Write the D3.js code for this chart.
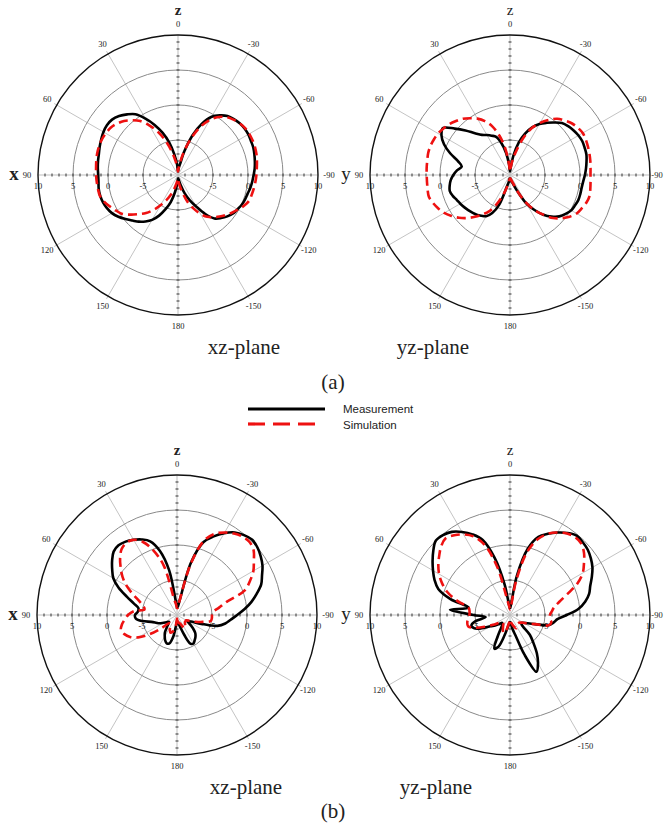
<!DOCTYPE html>
<html>
<head>
<meta charset="utf-8">
<script src="https://cdnjs.cloudflare.com/ajax/libs/d3/7.8.5/d3.min.js"></script>
<style>
  body { margin: 0; background: #fff; }
  svg text { font-family: "Liberation Serif", "Times New Roman", serif; fill: #222; }
  svg text.legend { font-family: "Liberation Sans", Arial, sans-serif; }
</style>
</head>
<body>
<div id="chart"></div>
<script>
// sample angles (deg), 0 = +z axis, positive values towards the left (x or y) axis
const angles = [-180,-175,-170,-165,-160,-155,-150,-145,-140,-135,-130,-125,-120,-115,-110,-105,-100,-95,
  -90,-85,-80,-75,-70,-65,-60,-55,-50,-45,-40,-35,-30,-25,-20,-15,-10,-5,
  0,5,10,15,20,25,30,35,40,45,50,55,60,65,70,75,80,85,
  90,95,100,105,110,115,120,125,130,135,140,145,150,155,160,165,170,175];

// gain in dB at each angle above
// (a) xz-plane
const xzMeasA = [-9.5,-9.5,-9.2,-8.5,-7.2,-6.0,-4.8,-3.2,-1.9,-1.3,-0.8,-0.4,-0.2,0.05,0.2,0.3,0.5,0.65,
  0.8,1.0,1.15,1.3,1.45,1.5,1.6,1.6,1.5,1.3,1.0,0.4,-0.4,-1.9,-4.0,-6.5,-8.5,-9,
  -9.5,-8.5,-7,-5.2,-3.6,-2.1,-0.7,0.6,1.3,1.9,2.3,2.4,2.3,2.1,1.9,1.7,1.6,1.5,
  1.4,1.4,1.5,1.5,1.4,1.2,0.9,0.4,-0.2,-0.8,-1.3,-1.9,-2.6,-3.6,-4.8,-6.0,-7.5,-8.8];
const xzSimA = [-9.5,-9,-8.3,-7.2,-5.8,-4.7,-3.6,-2.7,-2.1,-1.6,-1.1,-0.6,-0.1,0.4,0.8,0.9,1.0,1.1,
  1.2,1.3,1.45,1.6,1.7,1.75,1.75,1.7,1.5,1.2,0.8,0.1,-0.9,-2.4,-4.3,-6.3,-8,-9,
  -9.5,-9,-8,-6.5,-4.8,-3.2,-1.8,-0.6,0.2,0.9,1.4,1.75,1.9,2.0,2.0,1.95,1.85,1.75,
  1.7,1.65,1.6,1.55,1.2,0.7,0.2,-0.3,-1.2,-2.1,-2.9,-3.9,-5.0,-6.0,-7.0,-8.0,-8.8,-9.3];
// (a) yz-plane
const yzMeasA = [-9.5,-9.5,-9.3,-9,-8.5,-7.3,-5.3,-3.9,-2.6,-1.6,-0.8,-0.3,0.1,0.25,0.4,0.4,0.4,0.5,
  0.7,0.9,1.1,1.3,1.35,1.4,1.3,1.1,0.85,0.5,-0.2,-0.9,-1.6,-2.5,-3.7,-5.2,-7.2,-9,
  -9.5,-8.5,-6.8,-5.3,-4.2,-3.8,-3.4,-3.0,-2.2,-1.0,0.3,1.7,1.3,0.4,-0.9,-2.3,-3.0,-2.4,
  -1.9,-1.5,-1.25,-1.1,-1.3,-1.6,-1.8,-2.0,-2.2,-2.4,-2.6,-2.9,-3.2,-4.0,-5.5,-8.3,-9.0,-9.5];
const yzSimA = [-9.5,-9.5,-9.4,-9.2,-8.8,-7.3,-5.5,-3.9,-2.6,-1.3,-0.4,0.4,1.0,1.3,1.6,1.75,1.65,1.55,
  1.5,1.55,1.65,1.75,1.85,1.95,2.0,1.8,1.5,1.0,0.5,-0.4,-1.4,-2.6,-4.3,-6.3,-7.8,-9,
  -9.5,-8.5,-6.2,-4.2,-2.6,-1.5,-0.7,-0.1,0.5,0.9,1.3,1.6,1.85,2.0,2.1,2.1,2.0,1.95,
  1.9,1.9,1.95,2.0,1.7,1.3,0.85,0.2,-0.5,-1.3,-2.2,-3.1,-4.0,-5.3,-6.7,-8.0,-8.9,-9.4];
// (b) xz-plane
const xzMeasB = [-9,-9,-8.8,-8.2,-7.0,-5.5,-5.3,-5.6,-5.9,-6.3,-7.0,-7.8,-8.3,-7.8,-6.3,-4.0,-3.0,-2.3,
  -1.4,-0.3,0.8,1.8,2.8,3.4,4.1,4.6,5.0,5.2,4.9,4.4,3.5,2.4,1.1,-2.2,-8,-8.8,
  -8.8,-8,-3.5,-0.5,1.2,1.9,2.4,2.8,3.0,2.8,2.1,1.3,0.5,-0.8,-2.4,-3.6,-4.4,-4.4,
  -4.0,-4.1,-5.0,-6.2,-6.8,-7.2,-7.8,-8.2,-8.5,-8.3,-7.8,-7.0,-6.5,-6.0,-5.7,-5.8,-6.8,-8.5];
const xzSimB = [-9.5,-9.2,-9,-8.8,-8.7,-8.3,-7.8,-7.9,-8.2,-8.4,-8.5,-8.5,-8.5,-8.0,-7.2,-6.2,-5.1,-5.0,
  -5.0,-4.8,-3.9,-2.6,0.3,1.5,2.6,3.4,4.3,4.7,4.6,4.2,3.6,2.8,1.3,-2.5,-8,-9,
  -9,-8.5,-7.8,-2.7,-0.2,1.5,2.4,2.6,2.3,1.5,0.5,-0.5,-1.7,-3.1,-4.3,-5.0,-5.3,-3.8,
  -3.0,-2.5,-2.0,-1.7,-2.0,-2.6,-3.6,-5.2,-7.0,-8.3,-8.5,-8.3,-8.0,-7.6,-7.3,-7.5,-7.9,-8.8];
// (b) yz-plane
const yzMeasB = [-9,-8.8,-8,-7.0,-4.0,-1.05,-2.0,-3.3,-4.8,-6.0,-7.8,-8.0,-7.8,-7.2,-6.2,-4.3,-3.7,-3.2,
  -1.9,-0.2,0.9,1.7,2.2,2.9,3.6,4.1,4.5,4.7,4.8,4.3,3.6,2.8,1.9,-0.2,-4.3,-8.6,
  -9,-8.6,-5.6,-1.6,1.4,2.7,3.7,4.5,4.9,5.0,4.3,3.5,2.7,1.9,0.9,-1.2,-4.0,-1.4,
  -4.8,-6.5,-5.0,-4.3,-4.5,-5.5,-6.8,-7.4,-8.0,-8.4,-8.3,-7.8,-6.5,-4.7,-5.2,-7.0,-8.3,-8.8];
const yzSimB = [-9.3,-9,-8.8,-8.5,-8.2,-7.9,-8.0,-8.1,-8.3,-8.3,-8.3,-8.1,-7.8,-7.0,-6.2,-4.3,-4.0,-4.3,
  -4.3,-4.0,-3.6,-2.7,-1.3,0.6,2.0,2.9,3.8,4.4,4.5,4.2,3.6,2.8,1.5,-0.8,-5.2,-9,
  -9.2,-8.8,-7.8,-2.8,0.7,2.4,3.3,3.9,4.3,3.9,3.2,2.5,1.7,0.7,-0.5,-2.2,-4.0,-4.2,
  -4.2,-4.0,-3.8,-3.8,-4.7,-6.0,-7.2,-8.0,-8.4,-8.5,-8.5,-8.3,-8.0,-7.6,-7.3,-7.6,-8.5,-9];

// grid labels
const ringTicks = [-5, 0, 5, 10];
const spokeAngles = [0, 30, 60, 90, 120, 150, 180, -150, -120, -90, -60, -30];
const seriesNames = ["Measurement", "Simulation"];

const width = 664, height = 840, R = 140;
const svg = d3.select("#chart").append("svg")
  .attr("width", width).attr("height", height)
  .style("background", "#fff");

const rScale = d3.scaleLinear().domain([-10, 10]).range([0, R]).clamp(true);
const rad = a => a * Math.PI / 180;
// position of a point at angle a (deg) and radius r, relative to panel centre
const px = (a, r) => -r * Math.sin(rad(a));
const py = (a, r) => -r * Math.cos(rad(a));

const line = d3.lineRadial()
  .angle(d => -rad(d[0]))
  .radius(d => rScale(d[1]))
  .curve(d3.curveCatmullRomClosed.alpha(0.5));

function drawPanel(cfg) {
  const g = svg.append("g").attr("transform", `translate(${cfg.cx},${cfg.cy})`);

  // spokes
  g.selectAll(".spoke").data(spokeAngles.filter(a => a % 90 !== 0)).join("line")
    .attr("x1", 0).attr("y1", 0)
    .attr("x2", a => px(a, R + 3)).attr("y2", a => py(a, R + 3))
    .attr("stroke", "#c4c4c4").attr("stroke-width", 1);

  // main axes
  [0, 90].forEach(a => {
    g.append("line")
      .attr("x1", px(a, R)).attr("y1", py(a, R))
      .attr("x2", px(a + 180, R)).attr("y2", py(a + 180, R))
      .attr("stroke", "#bdbdbd").attr("stroke-width", 1);
  });

  // rings
  g.selectAll(".ring").data(ringTicks).join("circle")
    .attr("r", d => rScale(d))
    .attr("fill", "none")
    .attr("stroke", d => d === 10 ? "#111" : "#8a8a8a")
    .attr("stroke-width", d => d === 10 ? 1.4 : 1);

  // minor ticks along the axes, every dB
  const minor = rScale.ticks(20).filter(t => t > -10 && t < 10);
  [0, 90, 180, -90].forEach(a => {
    g.selectAll(null).data(minor).join("line")
      .attr("x1", t => px(a, rScale(t)) + (a % 180 === 0 ? -1.5 : 0))
      .attr("x2", t => px(a, rScale(t)) + (a % 180 === 0 ? 1.5 : 0))
      .attr("y1", t => py(a, rScale(t)) + (a % 180 === 0 ? 0 : -1.5))
      .attr("y2", t => py(a, rScale(t)) + (a % 180 === 0 ? 0 : 1.5))
      .attr("stroke", "#333").attr("stroke-width", 1);
  });

  // angle labels (kept inside the page at the right edge)
  g.selectAll(".alab").data(spokeAngles).join("text")
    .attr("x", a => Math.min(px(a, R + 11), width - 1 - cfg.cx - 6))
    .attr("y", a => py(a, R + 11))
    .attr("text-anchor", "middle").attr("dy", "0.35em")
    .style("font-size", "8.5px")
    .text(a => a);

  // radial labels under horizontal axis, both sides
  [90, -90].forEach(a => {
    g.selectAll(null).data(ringTicks).join("text")
      .attr("x", t => px(a, rScale(t)))
      .attr("y", 11)
      .attr("text-anchor", "middle").attr("dy", "0.35em")
      .style("font-size", "8.5px")
      .text(t => t);
  });

  // axis names
  g.append("text")
    .attr("x", 0).attr("y", -R - 25)
    .attr("text-anchor", "middle").attr("dy", "0.35em")
    .style("font-size", "15px").style("font-weight", cfg.bold ? "bold" : "normal")
    .text(cfg.vName);
  g.append("text")
    .attr("x", -R - 24).attr("y", -2)
    .attr("text-anchor", "middle").attr("dy", "0.35em")
    .style("font-size", "19px").style("font-weight", cfg.bold ? "bold" : "normal")
    .text(cfg.hName);

  // curves: measurement then simulation on top
  const meas = angles.map((a, i) => [a, cfg.meas[i]]);
  const sim = angles.map((a, i) => [a, cfg.sim[i]]);
  g.append("path").attr("d", line(meas))
    .attr("fill", "none").attr("stroke", "#000").attr("stroke-width", 2.6)
    .attr("stroke-linejoin", "round");
  g.append("path").attr("d", line(sim))
    .attr("fill", "none").attr("stroke", "#ee1111").attr("stroke-width", 2.6)
    .attr("stroke-dasharray", "9,5");

  // plane caption
  svg.append("text")
    .attr("x", cfg.cx + cfg.capDx).attr("y", cfg.cy + 172)
    .attr("text-anchor", "middle").attr("dy", "0.35em")
    .style("font-size", "21px")
    .text(cfg.caption);
}

drawPanel({cx: 178, cy: 175, hName: "x", vName: "z", bold: true, meas: xzMeasA, sim: xzSimA, caption: "xz-plane", capDx: 66});
drawPanel({cx: 510, cy: 175, hName: "y", vName: "z", bold: false, meas: yzMeasA, sim: yzSimA, caption: "yz-plane", capDx: -77});
drawPanel({cx: 177, cy: 615, hName: "x", vName: "z", bold: true, meas: xzMeasB, sim: xzSimB, caption: "xz-plane", capDx: 69});
drawPanel({cx: 510, cy: 615, hName: "y", vName: "z", bold: false, meas: yzMeasB, sim: yzSimB, caption: "yz-plane", capDx: -74});

// sub-figure letters
svg.append("text").attr("x", 333).attr("y", 382).attr("dy", "0.35em")
  .attr("text-anchor", "middle").style("font-size", "21px").text("(a)");
svg.append("text").attr("x", 333).attr("y", 811).attr("dy", "0.35em")
  .attr("text-anchor", "middle").style("font-size", "21px").text("(b)");

// legend
const legend = svg.append("g").attr("transform", "translate(248,409)");
legend.append("line").attr("x1", 0).attr("x2", 77).attr("y1", 0).attr("y2", 0)
  .attr("stroke", "#000").attr("stroke-width", 3.2);
legend.append("line").attr("x1", 0).attr("x2", 70).attr("y1", 15).attr("y2", 15)
  .attr("stroke", "#ee1111").attr("stroke-width", 3.2).attr("stroke-dasharray", "17,8");
legend.selectAll(".legend").data(seriesNames).join("text")
  .attr("class", "legend")
  .attr("x", 95).attr("y", (d, i) => i * 15.5)
  .attr("dy", "0.35em")
  .style("font-size", "11.5px")
  .text(d => d);
</script>
</body>
</html>
